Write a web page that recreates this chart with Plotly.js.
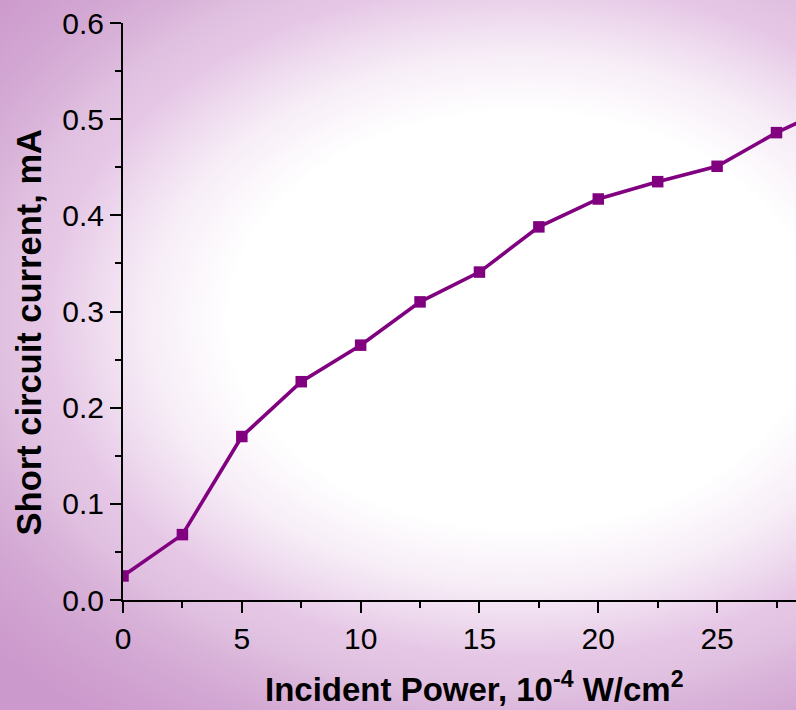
<!DOCTYPE html>
<html>
<head>
<meta charset="utf-8">
<script src="https://cdn.plot.ly/plotly-3.0.1.min.js"></script>
<style>
html,body{margin:0;padding:0;}
#chart{width:796px;height:710px;
background: radial-gradient(ellipse 560px 400px at 520px 320px, #ffffff 0%, #ffffff 52%, #f7eef7 66%, #eedaee 76%, #e6c8e6 84%, #e0c0e0 93%, #d9b3d9 100%, #d2a6d2 110%, #cc99cc 125%);}
</style>
</head>
<body>
<div id="chart"></div>
<script>
const power = [0, 2.5, 5, 7.5, 10, 12.5, 15, 17.5, 20, 22.5, 25, 27.5, 30];
const current = [0.025, 0.068, 0.170, 0.227, 0.265, 0.310, 0.341, 0.388, 0.417, 0.435, 0.451, 0.486, 0.515];
const xTicks = [0, 5, 10, 15, 20, 25];
const yTicks = [0.0, 0.1, 0.2, 0.3, 0.4, 0.5, 0.6];
const yTickText = ['0.0', '0.1', '0.2', '0.3', '0.4', '0.5', '0.6'];
const xTitle = '<b>Incident Power, 10<sup>-4</sup> W/cm<sup>2</sup></b>';
const yTitle = '<b>Short circuit current, mA</b>';

const trace = {
  x: power, y: current, type: 'scatter', mode: 'lines+markers',
  line: {color: '#800080', width: 3.6},
  marker: {symbol: 'square', size: 11.5, color: '#800080'},
  cliponaxis: true, hoverinfo: 'skip'
};

const fam = 'Liberation Sans, Arial, sans-serif';

const layout = {
  width: 796, height: 710,
  margin: {l: 123, r: 0, t: 23, b: 110},
  paper_bgcolor: 'rgba(0,0,0,0)', plot_bgcolor: 'rgba(0,0,0,0)',
  showlegend: false,
  font: {family: fam, color: '#000'},
  xaxis: {
    range: [0, 28.32], showgrid: false, zeroline: false,
    showline: true, linecolor: '#000', linewidth: 2,
    ticks: 'outside', ticklen: 11, tickwidth: 2, tickcolor: '#000',
    tickvals: xTicks, ticktext: xTicks.map(String),
    tickfont: {family: fam, size: 30, color: '#000'},
    minor: {ticks: 'outside', ticklen: 6, tickwidth: 2, tickcolor: '#000', dtick: 2.5, tick0: 0, showgrid: false},
    automargin: false, fixedrange: true
  },
  yaxis: {
    range: [0, 0.6], showgrid: false, zeroline: false,
    showline: true, linecolor: '#000', linewidth: 2,
    ticks: 'outside', ticklen: 11, tickwidth: 2, tickcolor: '#000',
    tickvals: yTicks, ticktext: yTickText,
    tickfont: {family: fam, size: 30, color: '#000'},
    minor: {ticks: 'outside', ticklen: 6, tickwidth: 2, tickcolor: '#000', dtick: 0.05, tick0: 0, showgrid: false},
    automargin: false, fixedrange: true
  },
  annotations: [
    {text: xTitle, xref: 'paper', yref: 'paper', x: 0.523, y: -0.150,
     xanchor: 'center', yanchor: 'middle', showarrow: false,
     font: {family: fam, size: 33, color: '#000'}},
    {text: yTitle, xref: 'paper', yref: 'paper', x: -0.139, y: 0.4645,
     xanchor: 'center', yanchor: 'middle', textangle: -90, showarrow: false,
     font: {family: fam, size: 34.5, color: '#000'}}
  ]
};

Plotly.newPlot('chart', [trace], layout, {staticPlot: true, displayModeBar: false});
</script>
</body>
</html>
